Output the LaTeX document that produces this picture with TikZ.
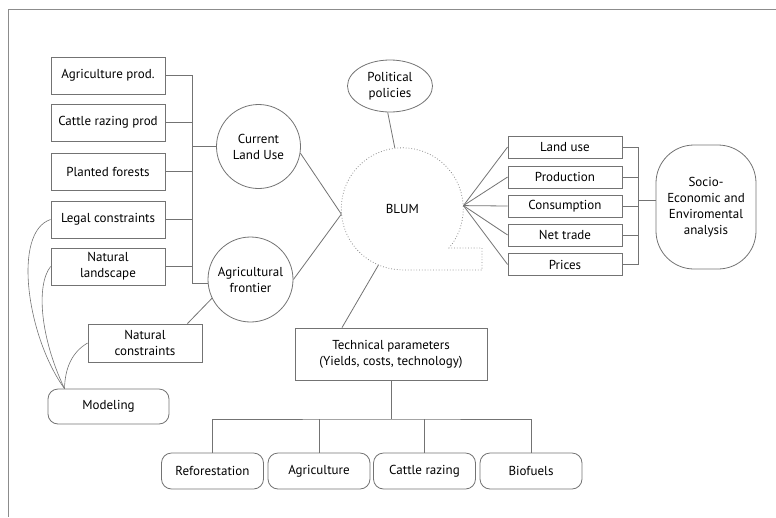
\documentclass[tikz,border=0pt]{standalone}
\usepackage{fontspec}
\setmainfont{PT Sans}
\usetikzlibrary{shapes.geometric}

\begin{document}
\begin{tikzpicture}[x=1pt,y=-1pt,
  every node/.style={font=\fontsize{13}{16}\selectfont, align=center, inner sep=0pt},
  wire/.style={draw=black!55, line width=0.8pt},
  box/.style={wire, rectangle, minimum width=114pt, minimum height=37pt},
  outbox/.style={wire, rectangle, minimum width=114pt, minimum height=22pt},
  roundbox/.style={wire, rectangle, rounded corners=10pt, minimum width=102pt, minimum height=36pt},
  bubble/.style={wire, circle, minimum size=84pt}]
\useasboundingbox (0,0) rectangle (776,517);
% frame
\draw[draw=black!45, line width=1pt] (776,9.5) -- (8,9.5) -- (8,517);

% inputs on the left
\node[box] (agri) at (108,75.5) {Agriculture prod.};
\node[box] (cattle) at (108,122.5) {Cattle razing prod};
\node[box] (planted) at (108,171.5) {Planted forests};
\node[box] (legal) at (108,219.5) {Legal constraints};
\node[box] (natland) at (108,266.5) {Natural\\landscape};
\node[box, minimum height=38pt] (natcon) at (145,343) {Natural\\constraints};
\node[roundbox, minimum width=121pt, minimum height=35pt] (modeling) at (108.5,406.5) {Modeling};

\node[bubble] (current) at (258.5,146.5) {Current\\Land Use};
\node[bubble, minimum size=85pt] (frontier) at (250.5,279.5) {Agricultural\\frontier};

\coordinate (lbus) at (192,283);
\draw[wire] (agri.east) -| (lbus) -- (lbus -| frontier.west);
\foreach \n in {cattle,planted,legal,natland}
  \draw[wire] (\n.east) -- (\n.east -| lbus);
\draw[wire] (current.west) -- (current.west -| lbus);
\draw[wire] ([xshift=-15pt]natcon.north east) -- (frontier.206);

% links to modeling
\coordinate (mtip) at ([xshift=-44pt]modeling.north);
\draw[wire, line width=0.6pt] (legal.west) .. controls (12,232) and (27,337) .. (mtip);
\draw[wire, line width=0.6pt] (natland.west) .. controls (36,285) and (40,337) .. (mtip);
\draw[wire, line width=0.6pt] (natcon.west) .. controls (72,352) and (65,368) .. (mtip);

% model
\node[circle, minimum size=122pt] (blum) at (402.3,208.8) {BLUM};
\draw[draw=black!45, line width=0.8pt, dotted] (blum.south) -- (482,270) -- (482,248) -- (449,248)
  arc[start angle=40, end angle=-270, radius=61];
\node[wire, ellipse, minimum width=85pt, minimum height=52pt] (political) at (390,86) {Political\\policies};
\draw[wire] (political.265) -- (blum.97);
\draw[wire] (current.351) -- (blum.185);
\draw[wire] (frontier.east) -- (blum.185);

% outputs
\node[outbox] (landuse) at (565,147) {Land use};
\node[outbox] (production) at (565,177) {Production};
\node[outbox] (consumption) at (565,206) {Consumption};
\node[outbox] (nettrade) at (565,235) {Net trade};
\node[outbox] (prices) at (565,264.5) {Prices};
\node[wire, rectangle, rounded corners=38pt, minimum width=100pt, minimum height=124pt] (socio) at (706,207) {Socio-\\Economic and\\Enviromental\\analysis};

\coordinate (rbus) at (638,200);
\foreach \n in {landuse,production,consumption,nettrade,prices} {
  \draw[wire] (blum.3) -- (\n.west);
  \draw[wire] (\n.east) -- (\n.east -| rbus);
}
\draw[wire] (landuse.east -| rbus) -- (prices.east -| rbus);
\draw[wire] (rbus) -- (rbus -| socio.west);

% technical parameters
\node[wire, rectangle, minimum width=192pt, minimum height=52pt] (tech) at (391,354) {Technical parameters\\(Yields, costs, technology)};
\draw[wire] (blum.247) -- ([xshift=-49pt]tech.north);

\node[roundbox] (refor) at (212.5,471) {Reforestation};
\node[roundbox] (agric) at (319,471) {Agriculture};
\node[roundbox] (razing) at (424.5,471) {Cattle razing};
\node[roundbox] (biofuels) at (531,471) {Biofuels};

\coordinate (bbus) at (391,419);
\draw[wire] (tech.south) -- (bbus);
\draw[wire] (refor.north) |- (bbus) -| (biofuels.north);
\draw[wire] (agric.north) -- (agric.north |- bbus);
\draw[wire] (razing.north) -- (razing.north |- bbus);
\end{tikzpicture}
\end{document}
